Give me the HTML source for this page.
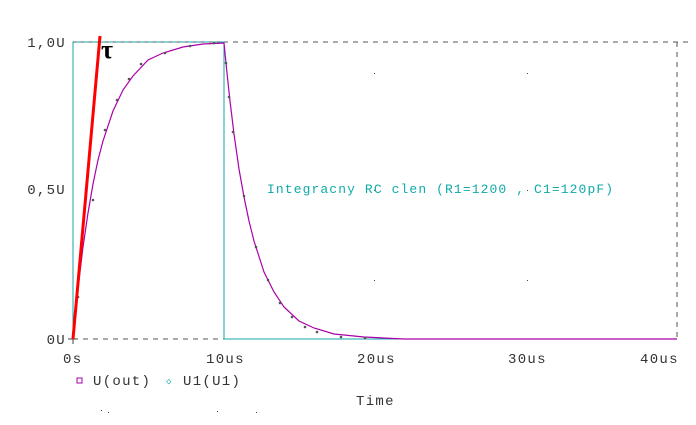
<!DOCTYPE html><html><head><style>body{margin:0;background:#fff}svg{display:block}text{font-family:"Liberation Mono",monospace;font-size:14px;fill:#333;letter-spacing:1.3px}</style></head><body>
<svg width="696" height="425" xmlns="http://www.w3.org/2000/svg">
<g stroke="#555" stroke-dasharray="5,5" fill="none" stroke-width="1">
<line x1="73" y1="42" x2="690" y2="42"/><line x1="73" y1="339" x2="677" y2="339"/><line x1="677" y1="42" x2="677" y2="339"/>
</g>
<g fill="#444">
<rect x="374" y="73" width="1" height="1"/><rect x="527" y="73" width="1" height="1"/><rect x="374" y="190" width="1" height="1"/><rect x="527" y="190" width="1" height="1"/><rect x="374" y="280" width="1" height="1"/><rect x="527" y="280" width="1" height="1"/>
<rect x="101" y="410" width="1" height="1"/><rect x="108" y="412" width="1" height="1"/><rect x="217" y="411" width="1" height="1"/><rect x="256" y="412" width="1" height="1"/>
</g>
<line x1="68" y1="339" x2="78" y2="339" stroke="#444"/><line x1="73" y1="334" x2="73" y2="344" stroke="#444"/>
<polyline points="73,339 73,42 224,42 224,339 677,339" fill="none" stroke="#1aa" stroke-width="1"/>
<line x1="73" y1="42" x2="224" y2="42" stroke="#555" stroke-dasharray="3,5"/>
<polyline fill="none" stroke="#a0a" stroke-width="1.2" points="
73,339 78,289 83,247 88,213 93,184 98,160 103,141 113,111 123,90 133,76 148,60 163,53 183,47 203,44 224,43
227,73 230,101 234,134 239,169 244,197 249,221 254,241 264,272 274,292 284,307 299,321 314,328 334,334 364,337 404,339 677,339"/>
<g fill="#555">
<circle cx="78" cy="297" r="1.3"/><circle cx="93" cy="200" r="1.3"/><circle cx="105" cy="130" r="1.3"/><circle cx="117" cy="100" r="1.3"/><circle cx="129" cy="79" r="1.3"/><circle cx="141" cy="64" r="1.3"/><circle cx="165" cy="53" r="1.3"/><circle cx="190" cy="46" r="1.3"/><circle cx="214" cy="43" r="1.3"/>
<circle cx="226" cy="63" r="1.3"/><circle cx="229" cy="97" r="1.3"/><circle cx="233" cy="132" r="1.3"/><circle cx="244" cy="196" r="1.3"/><circle cx="256" cy="247" r="1.3"/><circle cx="268" cy="280" r="1.3"/><circle cx="280" cy="303" r="1.3"/><circle cx="292" cy="317" r="1.3"/><circle cx="305" cy="327" r="1.3"/><circle cx="317" cy="332" r="1.3"/><circle cx="341" cy="337" r="1.3"/><circle cx="365" cy="338" r="1.3"/>
</g>
<line x1="73" y1="339" x2="100" y2="36" stroke="#f00" stroke-width="3"/>
<text x="101" y="58" style="font-family:'Liberation Serif',serif;font-size:26px;fill:#000;font-weight:bold">τ</text>
<text x="66" y="47" text-anchor="end">1,0U</text><text x="66" y="194" text-anchor="end">0,5U</text><text x="66" y="344" text-anchor="end">0U</text>
<text x="63" y="363">0s</text><text x="206" y="363">10us</text><text x="357" y="363">20us</text><text x="508" y="363">30us</text><text x="640" y="363">40us</text>
<rect x="77" y="378" width="5" height="5" fill="none" stroke="#a0a"/>
<text x="93" y="385">U(out)</text>
<text x="166" y="384" style="fill:#1aa;font-size:9px">◇</text>
<text x="183" y="385">U1(U1)</text>
<text x="356" y="405">Time</text>
<text x="267" y="193" style="fill:#1aa;font-size:13px;letter-spacing:1.1px">Integracny RC clen (R1=1200 , C1=120pF)</text>
</svg></body></html>
